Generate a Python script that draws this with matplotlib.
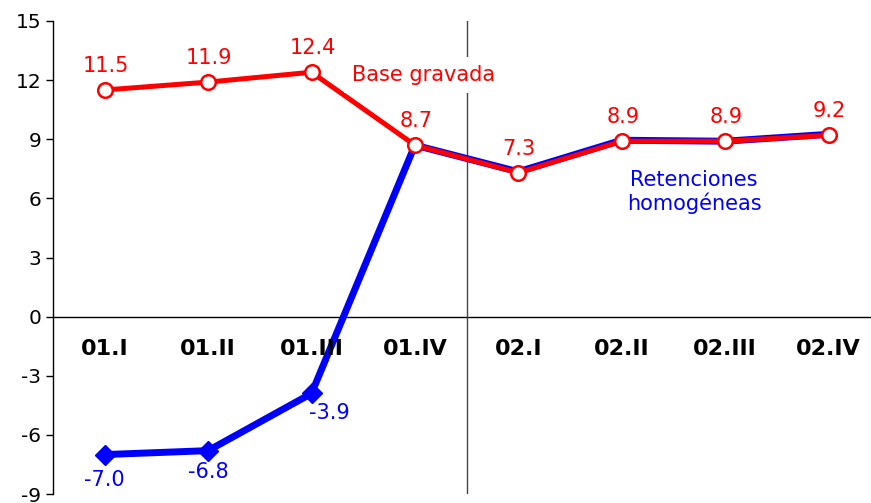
import numpy as np
import matplotlib.pyplot as plt

plt.rcParams['axes.unicode_minus'] = False

# quarters and growth rates (%)
quarters = ['01.I', '01.II', '01.III', '01.IV', '02.I', '02.II', '02.III', '02.IV']
base_gravada = [11.5, 11.9, 12.4, 8.7, 7.3, 8.9, 8.9, 9.2]
retenciones = [-7.0, -6.8, -3.9, 8.7, 7.35, 8.95, 8.9, 9.25]
retenciones_labels = ['-7.0', '-6.8', '-3.9']

RED = '#ff0000'
BLUE = '#0000ff'

fig = plt.figure(figsize=(8.71, 5.03), dpi=100)
ax = fig.add_axes([53 / 871, 1 - 494 / 503, 1 - 53 / 871, (494 - 21) / 503])

x = np.arange(len(quarters))

ax.plot(x, retenciones, color=BLUE, lw=5, marker='D', ms=10, markevery=[0, 1, 2], zorder=3)
ax.plot(x, base_gravada, color=RED, lw=3.6, marker='o', ms=10.5,
        mfc='white', mec=RED, mew=1.8, zorder=4)

# data labels
for xi, v in zip(x, base_gravada):
    ax.annotate(f'{v:.1f}', (xi, v), xytext=(1, 24), textcoords='offset pixels',
                ha='center', va='center', color=RED, fontsize=15, zorder=6)
offsets = [(0, -25), (0, -21), (18, -20)]
for xi, v, lab, off in zip(x, retenciones, retenciones_labels, offsets):
    ax.annotate(lab, (xi, v), xytext=off, textcoords='offset pixels',
                ha='center', va='center', color=BLUE, fontsize=15, zorder=6)

# series names
ax.text(3.085, 12.26, 'Base gravada', color=RED, fontsize=15, ha='center', va='center',
        zorder=5, bbox=dict(facecolor='white', edgecolor='none', pad=6))
ax.text(5.70, 6.33, 'Retenciones\nhomogéneas', color=BLUE, fontsize=15,
        ha='center', va='center', linespacing=1.15, zorder=5)

# category labels under the zero line
for xi, q in zip(x, quarters):
    ax.text(xi, -1.65, q, ha='center', va='center', fontsize=16, fontweight='bold')

ax.axhline(0, color='black', lw=1, zorder=1)
ax.axvline(3.5, color='#444444', lw=1, zorder=1)

ax.set_xlim(-0.5, -0.5 + (871 - 53) / 103.4)
ax.set_ylim(-9, 15)
ax.set_yticks(np.arange(-9, 16, 3))
ax.set_xticks([])
ax.tick_params(axis='y', labelsize=14.5, length=5, width=1, direction='out')
for s in ['top', 'right', 'bottom']:
    ax.spines[s].set_visible(False)
ax.spines['left'].set_linewidth(1)

fig.savefig('out.png', dpi=100)
